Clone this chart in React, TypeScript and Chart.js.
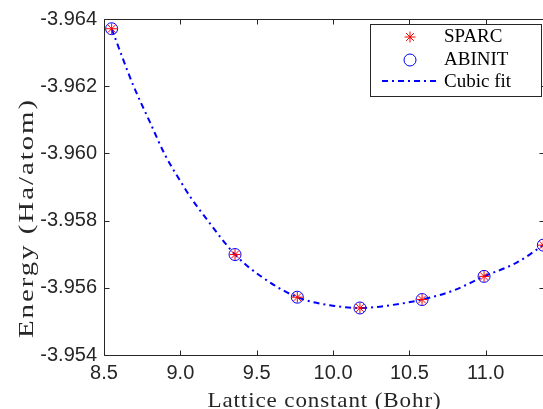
import React, { useEffect, useRef } from "react";
import { Chart, registerables } from "chart.js";

Chart.register(...registerables);

// ---- data ----
const latticeConstants = [8.55, 9.358, 9.766, 10.176, 10.583, 10.989, 11.377];
const sparcEnergies = [-3.96371, -3.95699, -3.95572, -3.9554, -3.95565, -3.95634, -3.95727];
const abinitEnergies = [-3.96371, -3.95699, -3.95572, -3.9554, -3.95565, -3.95634, -3.95727];

const fitLattice = [
  8.55, 8.692, 8.801, 8.899, 9.009, 9.063, 9.173, 9.358, 9.522, 9.766, 9.98, 10.176,
  10.373, 10.583, 10.788, 10.989, 11.203, 11.377,
];
const fitEnergies = [
  -3.96371, -3.96202, -3.96093, -3.95996, -3.95911, -3.95872, -3.95804, -3.95699, -3.95636,
  -3.95572, -3.95548, -3.9554, -3.95548, -3.95565, -3.95592, -3.95634, -3.95675, -3.95727,
];

const xTicks = [8.5, 9.0, 9.5, 10.0, 10.5, 11.0];
const yTicks = [-3.964, -3.962, -3.96, -3.958, -3.956, -3.954];

const xLabel = "Lattice constant (Bohr)";
const yLabel = "Energy (Ha/atom)";
const legendLabels = ["SPARC", "ABINIT", "Cubic fit"];

const AXIS_COLOR = "#262626";
const SERIF = '"Liberation Serif", "Times New Roman", serif';
const SANS = '"Liberation Sans", Arial, Helvetica, sans-serif';
const FIT_DASH = [6, 4, 2, 4];

function drawStretched(
  ctx: CanvasRenderingContext2D,
  text: string,
  cx: number,
  cy: number,
  font: string,
  spacing: number,
  targetWidth: number,
  rotate: number
) {
  ctx.save();
  ctx.font = font;
  (ctx as any).letterSpacing = `${spacing}px`;
  const w = ctx.measureText(text).width;
  ctx.translate(cx, cy);
  ctx.rotate(rotate);
  ctx.scale(targetWidth / w, 1);
  ctx.textAlign = "center";
  ctx.textBaseline = "alphabetic";
  ctx.fillText(text, 0, 0);
  ctx.restore();
}

const decorPlugin = {
  id: "matlabDecor",
  afterDatasetsDraw(chart: any) {
    const { ctx, chartArea: a, scales } = chart;
    const xs = scales.x;
    const ys = scales.y;
    ctx.save();
    // box
    ctx.strokeStyle = AXIS_COLOR;
    ctx.lineWidth = 1;
    const L = Math.round(a.left) + 0.5;
    const R = Math.round(a.right) - 0.5;
    const T = Math.round(a.top) + 0.5;
    const B = Math.round(a.bottom) + 0.5;
    ctx.beginPath();
    ctx.rect(L, T, R - L, B - T);
    ctx.stroke();
    // inward ticks
    const tl = 5;
    ctx.beginPath();
    xTicks.forEach((v) => {
      const px = Math.round(xs.getPixelForValue(v)) + 0.5;
      ctx.moveTo(px, B);
      ctx.lineTo(px, B - tl);
      ctx.moveTo(px, T);
      ctx.lineTo(px, T + tl);
    });
    yTicks.forEach((v) => {
      const py = Math.round(ys.getPixelForValue(v)) + 0.5;
      ctx.moveTo(L, py);
      ctx.lineTo(L + tl, py);
      ctx.moveTo(R, py);
      ctx.lineTo(R - tl, py);
    });
    ctx.stroke();

    // axis titles
    ctx.fillStyle = AXIS_COLOR;
    drawStretched(ctx, xLabel, (a.left + a.right) / 2, 407, `21px ${SERIF}`, 0.8, 234, 0);
    drawStretched(ctx, yLabel, 33, 218, `22px ${SERIF}`, 1.5, 240, -Math.PI / 2);

    // legend
    const lx = 370.5;
    const ly = 24.5;
    ctx.fillStyle = "#ffffff";
    ctx.fillRect(lx, ly, 171, 72);
    ctx.strokeStyle = AXIS_COLOR;
    ctx.lineWidth = 1;
    ctx.strokeRect(lx, ly, 171, 72);

    const mx = 410;
    // star
    const sy = 37;
    const r = 5.5;
    ctx.strokeStyle = "#ff0000";
    ctx.beginPath();
    for (let k = 0; k < 4; k++) {
      const ang = (k * Math.PI) / 4;
      ctx.moveTo(mx - r * Math.cos(ang), sy - r * Math.sin(ang));
      ctx.lineTo(mx + r * Math.cos(ang), sy + r * Math.sin(ang));
    }
    ctx.stroke();
    // circle
    ctx.strokeStyle = "#0000ff";
    ctx.beginPath();
    ctx.arc(mx, 60, 6, 0, Math.PI * 2);
    ctx.stroke();
    // dash-dot line
    ctx.lineWidth = 2;
    ctx.setLineDash(FIT_DASH);
    ctx.beginPath();
    ctx.moveTo(382, 81);
    ctx.lineTo(438, 81);
    ctx.stroke();
    ctx.setLineDash([]);

    ctx.fillStyle = "#000000";
    ctx.font = `19px ${SERIF}`;
    ctx.textAlign = "left";
    ctx.textBaseline = "alphabetic";
    ctx.fillText(legendLabels[0], 444, 42);
    ctx.fillText(legendLabels[1], 444, 65);
    ctx.fillText(legendLabels[2], 444, 87);
    ctx.restore();
  },
};

export default function App() {
  const ref = useRef<HTMLCanvasElement>(null);

  useEffect(() => {
    const canvas = ref.current;
    if (!canvas) return;
    const chart = new Chart(canvas, {
      type: "scatter",
      data: {
        datasets: [
          {
            label: legendLabels[0],
            data: latticeConstants.map((x, i) => ({ x, y: sparcEnergies[i] })),
            showLine: false,
            pointStyle: "star",
            pointRadius: 5.5,
            pointBorderWidth: 1,
            borderColor: "#ff0000",
            backgroundColor: "rgba(0,0,0,0)",
            clip: false,
          } as any,
          {
            label: legendLabels[1],
            data: latticeConstants.map((x, i) => ({ x, y: abinitEnergies[i] })),
            showLine: false,
            pointStyle: "circle",
            pointRadius: 6,
            pointBorderWidth: 1,
            borderColor: "#0000ff",
            backgroundColor: "rgba(0,0,0,0)",
            clip: false,
          } as any,
          {
            label: legendLabels[2],
            data: fitLattice.map((x, i) => ({ x, y: fitEnergies[i] })),
            showLine: true,
            pointRadius: 0,
            borderColor: "#0000ff",
            borderWidth: 2,
            borderDash: FIT_DASH,
            cubicInterpolationMode: "monotone",
            fill: false,
          } as any,
        ],
      },
      options: {
        animation: false,
        responsive: false,
        maintainAspectRatio: false,
        devicePixelRatio: 1,
        layout: { padding: { left: 0, top: 16, right: 15, bottom: 0 } },
        plugins: {
          legend: { display: false },
          tooltip: { enabled: false },
        },
        scales: {
          x: {
            type: "linear",
            min: 8.5,
            max: 11.388,
            afterBuildTicks: (s: any) => {
              s.ticks = xTicks.map((v) => ({ value: v }));
            },
            afterFit: (s: any) => {
              s.height = 54;
            },
            ticks: {
              callback: (v: any) => Number(v).toFixed(1),
              font: { family: SANS, size: 20 },
              color: AXIS_COLOR,
              padding: 6,
              maxRotation: 0,
              autoSkip: false,
            },
            grid: { display: false, drawTicks: false },
            border: { display: false },
          },
          y: {
            type: "linear",
            reverse: true,
            min: -3.964,
            max: -3.954,
            afterBuildTicks: (s: any) => {
              s.ticks = yTicks.map((v) => ({ value: v }));
            },
            afterFit: (s: any) => {
              s.width = 104;
            },
            ticks: {
              callback: (v: any) => Number(v).toFixed(3),
              font: { family: SANS, size: 20 },
              color: AXIS_COLOR,
              padding: 7,
              autoSkip: false,
            },
            grid: { display: false, drawTicks: false },
            border: { display: false },
          },
        },
      },
      plugins: [decorPlugin],
    });
    return () => chart.destroy();
  }, []);

  return (
    <div
      style={{
        position: "fixed",
        left: 0,
        top: 0,
        width: 543,
        height: 409,
        overflow: "hidden",
        background: "#ffffff",
      }}
    >
      <canvas ref={ref} width={560} height={409} style={{ display: "block" }} />
    </div>
  );
}
